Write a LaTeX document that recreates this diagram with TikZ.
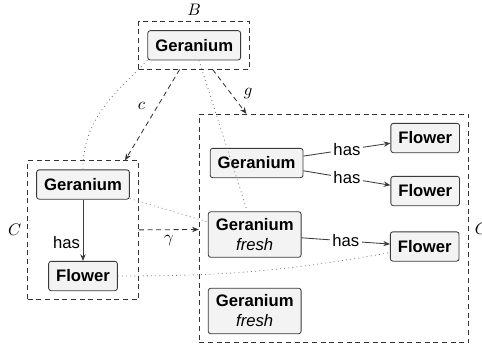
\documentclass[tikz,border=0pt]{standalone}
\usepackage{xcolor}
\usepackage{fontspec}
\setmainfont{Liberation Sans}
\usepackage{tikz}
\usetikzlibrary{fit,arrows.meta}
\definecolor{boxFill}{HTML}{F3F3F3}
\definecolor{boxLine}{HTML}{3A3A3A}
\definecolor{frameLine}{HTML}{333333}
\definecolor{traceLine}{HTML}{777777}
\tikzset{
	object/.style = {draw = boxLine, fill = boxFill, rounded corners = 1.5pt, line width = 0.5pt, inner xsep = 4.5pt, inner ysep = 4pt, minimum height = 17.6pt, align = center, font = \bfseries},
	frame/.style = {draw = frameLine, dash pattern = on 3pt off 2.2pt, line width = 0.5pt, inner sep = 5.2pt},
	has/.style = {draw = boxLine, line width = 0.5pt, -{Stealth[length = 4pt, width = 3.2pt]}},
	morph/.style = {draw = frameLine, dash pattern = on 3pt off 2.2pt, line width = 0.5pt, -{Stealth[length = 4pt, width = 3.2pt]}},
	trace/.style = {draw = traceLine, dotted, line width = 0.5pt},
	hasLabel/.style = {inner sep = 1.5pt, fill = white}
}
\newcommand{\fresh}{\\\mdseries\itshape fresh}

\begin{document}
\begin{tikzpicture}[x = 0.6pt, y = -0.6pt]%
	\useasboundingbox (0, 0) rectangle (482, 351);

	% B
	\node[object] (tG) at (194.2, 45.3) {Geranium};

	% C
	\node[object] (lG) at (83, 184.5) {Geranium};
	\node[object] (lF) at (83, 276) {Flower};

	% target
	\node[object] (rG) at (256.6, 163) {Geranium};
	\node[object] (rGf) at (254.7, 234.5) {Geranium\fresh};
	\node[object] (rGs) at (254.7, 311) {Geranium\fresh};
	\node[object] (rF1) at (425.2, 138) {Flower};
	\node[object] (rF2) at (425.2, 191) {Flower};
	\node[object] (rF3) at (424.7, 246.5) {Flower};

	% frames
	\node[frame, fit = (tG), label = above:$B$] (Bframe) {};
	\node[frame, fit = (lG) (lF), label = left:$C$] (Cframe) {};
	\node[frame, fit = (rG) (rGs) (rF1) (rF3), label = right:$C$] (Dframe) {};

	% morphisms
	\draw[morph] (Bframe) -- node[pos = 0.4, left = 4pt] {$c$} (Cframe);
	\draw[morph] (Bframe) -- node[pos = 0.55, right = 4pt] {$g$} (Dframe);
	\draw[morph] (Cframe) -- node[below] {$\gamma$} (Dframe);

	% has
	\draw[has] (lG) -- node[pos = 0.7, left, hasLabel] {has} (lF);
	\draw[has] (rG) -- node[hasLabel] {has} (rF1);
	\draw[has] (rG) -- node[hasLabel] {has} (rF2);
	\draw[has] (rGf) -- node[hasLabel] {has} (rF3);

	% traces
	\draw[trace] (tG.south west) to[out = 225, in = 90] (lG.north);
	\draw[trace] (tG) -- (rGf);
	\draw[trace] (lG) -- (rGf.165);
	\draw[trace] (lF) to[out = 0, in = 190] (rF3);

\end{tikzpicture}
\end{document}
